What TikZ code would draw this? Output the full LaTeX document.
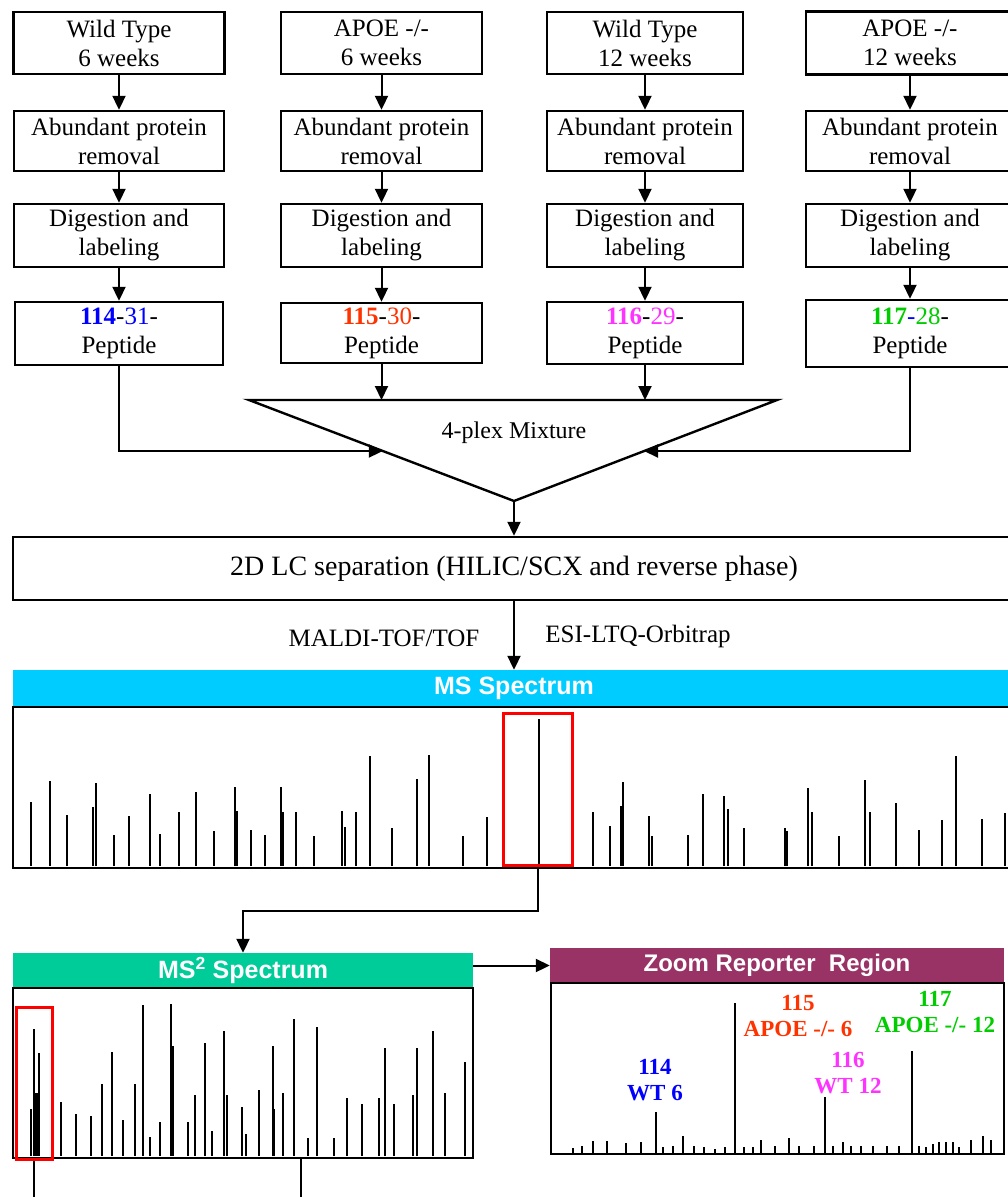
\documentclass[tikz,border=0pt]{standalone}
\usepackage{fontspec}
\setmainfont{Liberation Serif}
\newfontfamily\titlefont{Liberation Sans}
\usetikzlibrary{arrows.meta}
\definecolor{msblue}{HTML}{00CCFF}
\definecolor{msgreen}{HTML}{00CC99}
\definecolor{zoommar}{HTML}{993366}
\definecolor{cOne}{HTML}{0000FF}
\definecolor{cTwo}{HTML}{FF3300}
\definecolor{cThree}{HTML}{FF33FF}
\definecolor{cFour}{HTML}{00CC00}
\tikzset{
  box/.style={draw, line width=2.4pt, inner sep=0pt, align=center, font=\fontsize{25}{29}\selectfont},
  arr/.style={-{Triangle[length=14pt,width=13pt]}, line width=2pt},
  conn/.style={line width=2pt},
  peak/.style={line width=2pt},
  bar/.style={inner sep=0pt, text=white, font=\titlefont\bfseries\fontsize{25}{29}\selectfont},
  specbox/.style={draw, line width=2.4pt, inner sep=0pt},
  selbox/.style={draw=red, line width=3pt, inner sep=0pt},
  lbl/.style={inner sep=0pt, font=\fontsize{25}{29}\selectfont},
  rep/.style={inner sep=0pt, align=center, font=\bfseries\fontsize{23}{26}\selectfont}
}
\begin{document}
\begin{tikzpicture}[x=1pt,y=-1pt]
\useasboundingbox (0,0) rectangle (1007,1197);
% row 1
\node[box, minimum width=211pt, minimum height=62pt] (r1c1) at (119,43) {Wild Type\\6 weeks};
\node[box, minimum width=201pt, minimum height=62pt] (r1c2) at (381.5,43) {APOE -/-\\6 weeks};
\node[box, minimum width=196pt, minimum height=62pt] (r1c3) at (645,43) {Wild Type\\12 weeks};
\node[box, minimum width=208pt, minimum height=63pt] (r1c4) at (910,43) {APOE -/-\\12 weeks};
% rows 2, 3
\foreach \i/\cx/\w in {1/119/210, 2/381.5/201, 3/645/196, 4/910/208}{
  \node[box, minimum width=\w pt, minimum height=60pt] (r2c\i) at (\cx,141) {Abundant protein\\removal};
  \node[box, minimum width=\w pt, minimum height=63pt] (r3c\i) at (\cx,235.5) {Digestion and\\labeling};
}
% row 4
\node[box, minimum width=208pt, minimum height=63pt] (r4c1) at (119,333.5) {{\bfseries\color{cOne}114}-{\color{cOne}31}-\\Peptide};
\node[box, minimum width=201pt, minimum height=60pt] (r4c2) at (381.5,333) {{\bfseries\color{cTwo}115}-{\color{cTwo}30}-\\Peptide};
\node[box, minimum width=196pt, minimum height=62pt] (r4c3) at (645,333) {{\bfseries\color{cThree}116}-{\color{cThree}29}-\\Peptide};
\node[box, minimum width=208pt, minimum height=67pt] (r4c4) at (910,333.5) {{\bfseries\color{cFour}117}{\color{cOne}-}{\color{cFour}28}-\\Peptide};
\foreach \i in {1,2,3,4}{
  \draw[arr] (r1c\i.south) -- (r2c\i.north);
  \draw[arr] (r2c\i.south) -- (r3c\i.north);
  \draw[arr] (r3c\i.south) -- (r4c\i.north);
}
% triangle
\coordinate (T1) at (249,400);
\coordinate (T2) at (777,400);
\coordinate (T3) at (514,501);
\draw[line width=2.4pt, line join=miter] (T1) -- (T2) -- (T3) -- cycle;
\node[lbl, font=\fontsize{24}{28}\selectfont] (mix) at (514,433) {4-plex Mixture};
\coordinate (tl) at (382.8,451);
\coordinate (tr) at (644,451);
\draw[arr] (r4c1.south) |- (tl);
\draw[arr] (r4c4.south) |- (tr);
\draw[arr] (r4c2.south) -- (r4c2.south |- T1);
\draw[arr] (r4c3.south) -- (r4c3.south |- T1);
% LC
\node[box, minimum width=1002pt, minimum height=63pt, font=\fontsize{28}{31}\selectfont] (lc) at (514,568.5) {2D LC separation (HILIC/SCX and reverse phase)};
\draw[arr] (T3) -- (lc.north);
% MS bar
\node[bar, fill=msblue, minimum width=1002pt, minimum height=37pt] (msbar) at (514,688.5) {MS Spectrum};
\draw[arr] (lc.south) -- (msbar.north);
\node[lbl] (maldi) at (384,638) {MALDI-TOF/TOF};
\node[lbl] (esi) at (638,636) {ESI-LTQ-Orbitrap};
% MS spectrum
\node[specbox, minimum width=1002pt, minimum height=161pt] (msbox) at (514,787.5) {};
\foreach \x/\t in {31/802, 50/781, 67/815, 93/807, 96/783, 114/835, 129/816, 150/794, 160/834, 179/812, 196/792, 214/831, 235/787, 237/811, 251/830, 265/835, 281/787, 283/812, 296/812, 314/836, 342/811, 345/827, 356/812, 370/756, 392/828, 417/779, 429/755, 463/836, 487/817, 539/719, 593/812, 610/826, 621/806, 623/782, 649/816, 652/836, 688/835, 703/794, 724/796, 728/809, 744/828, 785/828, 787/831, 808/788, 812/812, 839/836, 865/780, 870/812, 896/803, 919/830, 942/820, 956/756, 982/819, 1005/813}{
  \draw[peak] (\x,866) -- (\x,\t);
}
\node[selbox, minimum width=69pt, minimum height=152pt] (sel1) at (537.5,789) {};
% MS2
\node[bar, fill=msgreen, minimum width=460pt, minimum height=35pt] (ms2bar) at (243,970.5) {MS\textsuperscript{2} Spectrum};
\draw[arr] (sel1.south) -- ++(0,44) -| (ms2bar.north);
\node[specbox, minimum width=460pt, minimum height=170pt] (ms2box) at (243,1073) {};
\foreach \x/\t in {31/1109, 34/1029, 36/1093, 37/1093, 39/1053, 61/1102, 76/1114, 91/1116, 102/1084, 112/1052, 123/1120, 135/1084, 143/1005, 150/1137, 160/1122, 171/1004, 173/1046, 188/1122, 195/1095, 205/1043, 212/1131, 224/1031, 227/1095, 242/1107, 246/1134, 259/1090, 273/1046, 274/1109, 283/1093, 294/1019, 308/1138, 317/1027, 334/1138, 347/1098, 362/1104, 379/1098, 385/1048, 394/1104, 413/1095, 417/1048, 433/1031, 445/1093, 465/1062}{
  \draw[peak] (\x,1156) -- (\x,\t);
}
\node[selbox, minimum width=36pt, minimum height=152pt] (sel2) at (34,1083) {};
\coordinate (e1) at (34,1197);
\coordinate (e2) at (301,1197);
\draw[conn] (sel2.south) -- (e1);
\draw[conn] (ms2box.south -| e2) -- (e2);
% Zoom reporter
\node[bar, fill=zoommar, minimum width=454pt, minimum height=35pt, font=\titlefont\bfseries\fontsize{24}{28}\selectfont] (zbar) at (777,965.5) {Zoom Reporter~~Region};
\draw[arr] (ms2bar.east |- zbar.west) -- (zbar.west);
\node[specbox, minimum width=453pt, minimum height=171pt] (zbox) at (777.5,1068.5) {};
\foreach \x/\t in {656/1112, 735/1003, 825/1097, 912/1051}{
  \draw[peak] (\x,1153) -- (\x,\t);
}
\foreach \x/\h in {573/5, 582/7, 593/12, 607/12, 626/10, 641/11, 663/6, 673/7, 683/17, 694/7, 704/6, 715/4, 725/6, 744/6, 753/6, 761/13, 775/7, 789/15, 799/7, 814/7, 833/7, 843/11, 851/7, 861/7, 873/7, 887/7, 899/7, 919/7, 926/6, 933/9, 939/11, 946/11, 953/11, 959/6, 971/13, 983/17, 991/13}{
  \draw[peak] (\x,1153) -- ++(0,-\h);
}
\node[rep, text=cOne] (l114) at (655,1080) {114\\WT 6};
\node[rep, text=cTwo] (l115) at (798,1016) {115\\APOE -/- 6};
\node[rep, text=cThree] (l116) at (848,1073) {116\\WT 12};
\node[rep, text=cFour] (l117) at (935,1012) {117\\APOE -/- 12};
\end{tikzpicture}
\end{document}
